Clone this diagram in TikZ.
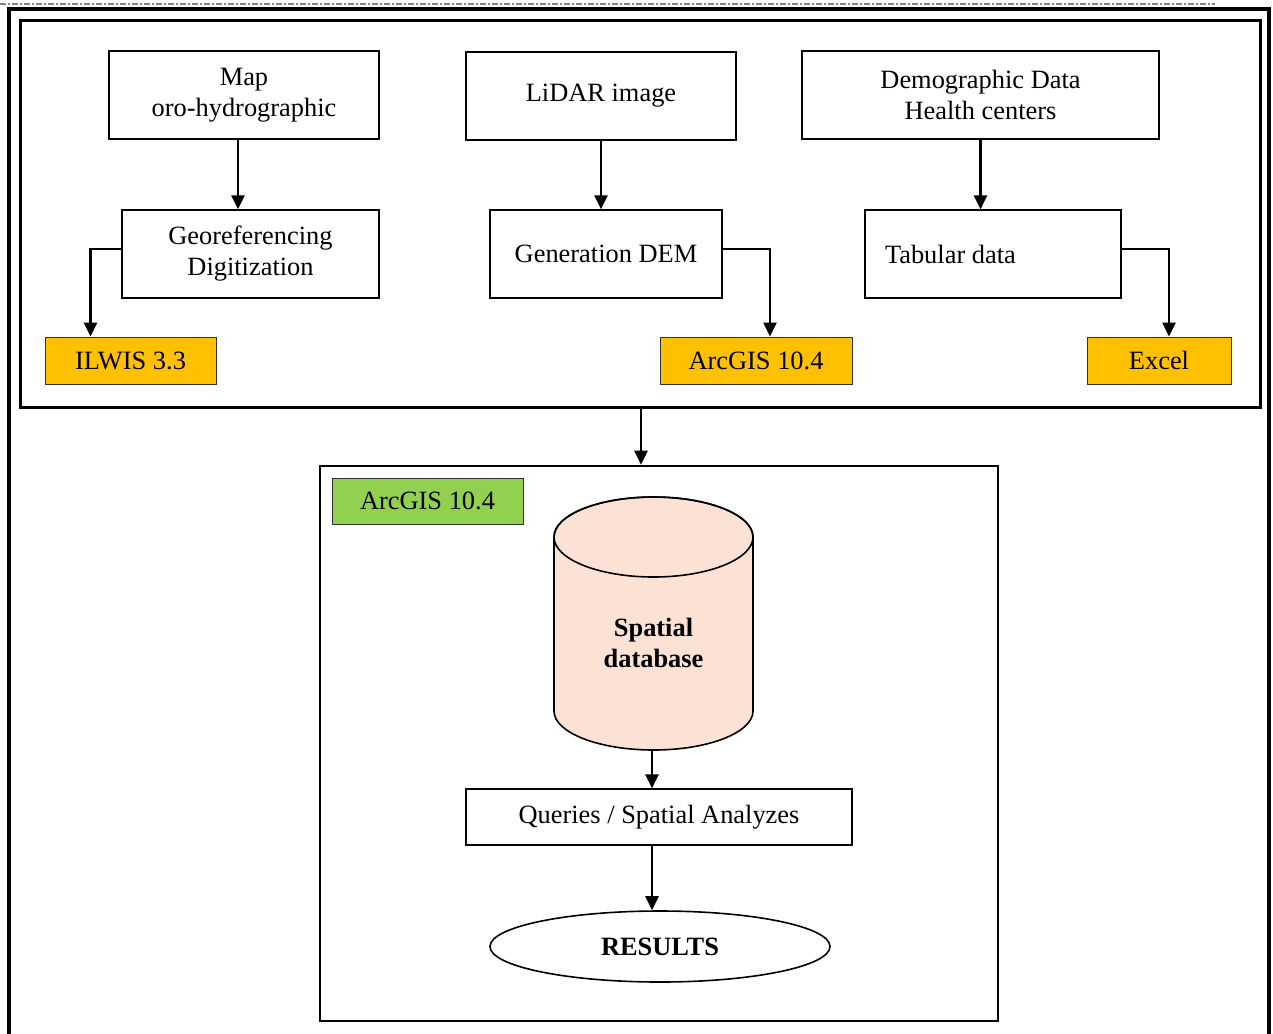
\documentclass[tikz,border=0pt]{standalone}
\usepackage{fontspec}
\setmainfont{Liberation Serif}
\usetikzlibrary{arrows.meta,shapes.geometric}
\definecolor{boxorange}{HTML}{FFC000}
\definecolor{boxgreen}{HTML}{92D050}
\definecolor{dbpeach}{HTML}{FBE2D5}
\definecolor{rulegray}{RGB}{120,135,160}
\tikzset{
  stepbox/.style={draw,line width=0.6pt,minimum height=44pt,align=center,inner sep=2pt},
  toolbox/.style={draw=black!80,line width=0.5pt,fill=boxorange,minimum height=23.5pt,inner sep=1pt},
  frame/.style={draw,line width=1.5pt,inner sep=0pt},
  arr/.style={-{Triangle[length=7pt,width=6.5pt]},line width=1.3pt},
}
\begin{document}
\begin{tikzpicture}[x=0.5pt,y=-0.5pt,font=\fontsize{13.2}{15.5}\selectfont]
\useasboundingbox (0,0) rectangle (1273,1033);
\draw[rulegray,line width=0.8pt,dash pattern=on 3pt off 1pt on 1pt off 1pt] (0,4) -- (1215,4);
\draw[line width=2pt] (9,1045) -- (9,9) -- (1269,9) -- (1269,1045);
% top block
\node[frame,minimum width=620pt,minimum height=193.5pt] (topbox) at (640,213.5) {};
\node[stepbox,minimum width=135pt] (map) at (244,95) {Map\\oro-hydrographic};
\node[stepbox,minimum width=135pt] (lidar) at (601,96) {LiDAR image};
\node[stepbox,minimum width=178.5pt] (demo) at (980.5,95) {Demographic Data\\Health centers};
\node[stepbox,minimum width=128.5pt] (georef) at (250.5,254) {Georeferencing\\Digitization};
\node[stepbox,minimum width=116pt] (gendem) at (606,254) {Generation DEM};
\node[stepbox,inner xsep=10pt,text width=108pt,align=flush left] (tabular) at (993,254) {Tabular data};
\node[toolbox,minimum width=85.5pt] (ilwis) at (130.5,360.5) {ILWIS 3.3};
\node[toolbox,minimum width=96pt] (arcgis) at (756,360.5) {ArcGIS 10.4};
\node[toolbox,minimum width=72pt] (excel) at (1159,360.5) {Excel};
\draw[arr] ([xshift=-3pt]map.south) -- ([xshift=-3pt]map.south |- georef.north);
\draw[arr] (lidar.south) -- (lidar.south |- gendem.north);
\draw[arr] (demo.south) -- (demo.south |- tabular.north);
\draw[arr] ([yshift=2.5pt]georef.west) -| ([xshift=23pt]ilwis.north west);
\draw[arr] ([yshift=2.5pt]gendem.east) -| ([xshift=7pt]arcgis.north);
\draw[arr] ([yshift=2.5pt]tabular.east) -| ([xshift=5pt]excel.north);
% lower block
\node[frame,line width=1.3pt,minimum width=339pt,minimum height=277.5pt] (lowbox) at (659,743.5) {};
\draw[arr] ([xshift=0.5pt]topbox.south) -- ([xshift=0.5pt]topbox.south |- lowbox.north);
\node[toolbox,fill=boxgreen,minimum width=95.5pt,minimum height=23pt] (gisbox) at (427.5,501) {ArcGIS 10.4};
\filldraw[fill=dbpeach,line width=0.8pt] (554,537) -- (554,711) arc[start angle=180,end angle=0,x radius=99.5,y radius=39]
  -- (753,537) arc[start angle=0,end angle=-180,x radius=99.5,y radius=40] -- cycle;
\draw[line width=0.8pt] (653.5,537) ellipse[x radius=99.5,y radius=40];
\node[align=center,font=\fontsize{13.2}{15.5}\selectfont\bfseries] (db) at (653.5,643) {Spatial\\database};
\coordinate (dbbot) at (652,750);
\node[stepbox,minimum width=193pt,minimum height=28pt] (queries) at (659,817) {Queries / Spatial Analyzes};
\node[ellipse,draw,line width=0.8pt,inner sep=0pt,minimum width=170pt,minimum height=35.5pt,font=\fontsize{13.2}{15.5}\selectfont\bfseries] (results) at (660,946.5) {RESULTS};
\draw[arr] (dbbot) -- (dbbot |- queries.north);
\draw[arr] ([xshift=-3.5pt]queries.south) -- ([xshift=-3.5pt]queries.south |- results.north);
\end{tikzpicture}
\end{document}
